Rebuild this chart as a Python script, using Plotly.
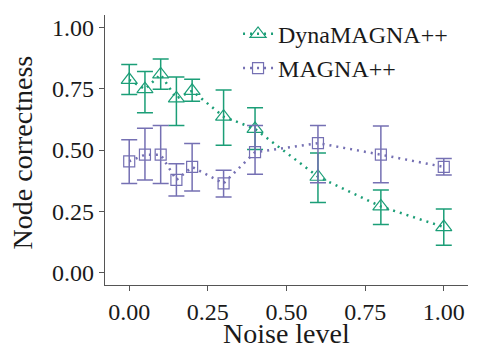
import plotly.graph_objects as go

noise = [0.0, 0.05, 0.1, 0.15, 0.2, 0.3, 0.4, 0.6, 0.8, 1.0]

dyna_mean = [0.786, 0.748, 0.808, 0.710, 0.741, 0.636, 0.586, 0.391, 0.270, 0.186]
dyna_lo = [0.726, 0.652, 0.748, 0.600, 0.699, 0.519, 0.502, 0.286, 0.196, 0.112]
dyna_hi = [0.848, 0.820, 0.871, 0.797, 0.788, 0.744, 0.672, 0.488, 0.337, 0.260]

magna_mean = [0.454, 0.481, 0.481, 0.378, 0.431, 0.364, 0.491, 0.528, 0.481, 0.431]
magna_lo = [0.364, 0.378, 0.364, 0.313, 0.333, 0.309, 0.401, 0.367, 0.367, 0.398]
magna_hi = [0.542, 0.589, 0.600, 0.444, 0.526, 0.418, 0.600, 0.600, 0.598, 0.465]

x_ticks = [0.0, 0.25, 0.5, 0.75, 1.0]
y_ticks = [0.0, 0.25, 0.5, 0.75, 1.0]

GREEN = "#1b9e77"
PURPLE = "#7570b3"
FONT = "Liberation Serif"

fig = go.Figure()


def add_series(name, mean, lo, hi, color, symbol, size):
    fig.add_trace(go.Scatter(
        x=noise, y=mean, name=name, mode="lines+markers",
        line=dict(color=color, width=2.5, dash="2px,5px"),
        marker=dict(symbol=symbol, size=size, color=color,
                    line=dict(color=color, width=1.2)),
        error_y=dict(type="data", symmetric=False,
                     array=[h - m for h, m in zip(hi, mean)],
                     arrayminus=[m - l for m, l in zip(mean, lo)],
                     color=color, thickness=1.5, width=8),
    ))


add_series("DynaMAGNA++", dyna_mean, dyna_lo, dyna_hi, GREEN, "triangle-up-open", 14)
add_series("MAGNA++", magna_mean, magna_lo, magna_hi, PURPLE, "square-open", 11)

axis_common = dict(
    showgrid=False, zeroline=False, showline=True, linecolor="#555555",
    linewidth=1.3, ticks="outside", ticklen=5, tickcolor="#555555",
    tickwidth=1.3, tickfont=dict(family=FONT, size=24, color="#1a1a1a"),
    tickformat=".2f", mirror=False, automargin=False,
)

fig.update_layout(
    width=471, height=342,
    margin=dict(l=97, r=11, t=4, b=65),
    paper_bgcolor="white", plot_bgcolor="white",
    font=dict(family=FONT, color="#1a1a1a"),
    xaxis=dict(range=[-0.077, 1.077], tickvals=x_ticks, **axis_common),
    yaxis=dict(range=[-0.05, 1.05], tickvals=y_ticks, **axis_common),
    annotations=[
        dict(text="Node correctness", textangle=-90, xref="paper", yref="paper",
             x=-0.2287, y=0.491, xanchor="center", yanchor="middle",
             showarrow=False, font=dict(family=FONT, size=28, color="#1a1a1a")),
        dict(text="Noise level", xref="paper", yref="paper",
             x=0.501, y=-0.1795, xanchor="center", yanchor="middle",
             showarrow=False, font=dict(family=FONT, size=28, color="#1a1a1a")),
    ],
    legend=dict(x=0.3665, y=1.012, xanchor="left", yanchor="top",
                bgcolor="rgba(0,0,0,0)", font=dict(family=FONT, size=24),
                tracegroupgap=0, itemwidth=30),
    showlegend=True,
)

fig.write_html("out.html")
